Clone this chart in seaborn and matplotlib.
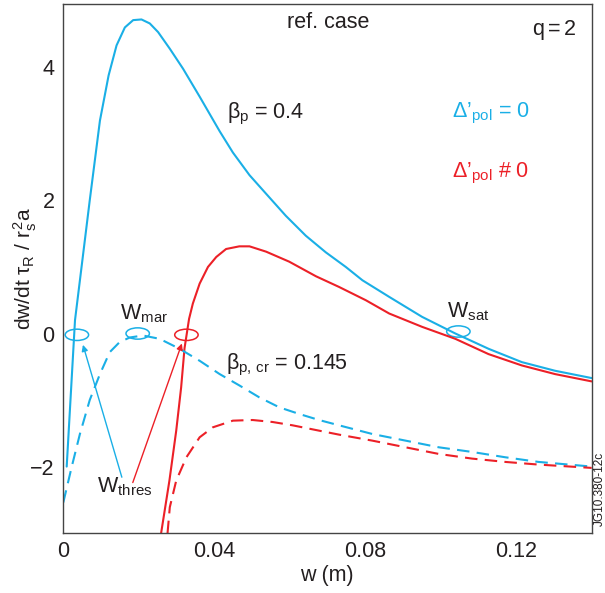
import numpy as np
import pandas as pd
import matplotlib
matplotlib.use("Agg")
import matplotlib.pyplot as plt
from matplotlib.patches import Ellipse
import seaborn as sns

# ---- data ----
blue_solid_w = [0.0010, 0.0032, 0.0071, 0.0098, 0.0121, 0.0142, 0.0164, 0.0186, 0.0208,
                0.0230, 0.0252, 0.0283, 0.0318, 0.0362, 0.0415, 0.0450, 0.0494, 0.0538,
                0.0590, 0.0643, 0.0696, 0.0749, 0.0793, 0.0864, 0.0951, 0.1039, 0.1127,
                0.1215, 0.1303, 0.1400]
blue_solid_v = [-2.00, 0.20, 2.00, 3.20, 3.88, 4.33, 4.60, 4.71, 4.72,
                4.66, 4.53, 4.28, 3.98, 3.56, 3.04, 2.72, 2.38, 2.10,
                1.77, 1.47, 1.22, 1.00, 0.80, 0.55, 0.25, 0.00, -0.23,
                -0.43, -0.56, -0.67]

red_solid_w = [0.0260, 0.0282, 0.0300, 0.0313, 0.0322, 0.0334, 0.0344, 0.0362, 0.0384,
               0.0406, 0.0432, 0.0467, 0.0494, 0.0538, 0.0599, 0.0670, 0.0731, 0.0802,
               0.0864, 0.0951, 0.1039, 0.1127, 0.1215, 0.1303, 0.1400]
red_solid_v = [-3.00, -2.21, -1.46, -0.81, -0.22, 0.22, 0.45, 0.75, 1.00,
               1.15, 1.27, 1.31, 1.31, 1.23, 1.08, 0.86, 0.70, 0.50,
               0.30, 0.10, -0.08, -0.31, -0.48, -0.61, -0.72]

blue_dash_w = [0.0001, 0.0023, 0.0045, 0.0071, 0.0098, 0.0124, 0.0150, 0.0177, 0.0212,
               0.0256, 0.0309, 0.0362, 0.0415, 0.0467, 0.0520, 0.0573, 0.0626, 0.0678,
               0.0731, 0.0819, 0.0907, 0.0995, 0.1083, 0.1171, 0.1259, 0.1400]
blue_dash_v = [-2.54, -2.01, -1.51, -1.00, -0.61, -0.28, -0.13, -0.06, -0.03,
               -0.08, -0.23, -0.41, -0.61, -0.78, -0.96, -1.11, -1.21, -1.30,
               -1.38, -1.51, -1.61, -1.71, -1.78, -1.86, -1.93, -2.00]

red_dash_w = [0.0277, 0.0283, 0.0300, 0.0327, 0.0362, 0.0397, 0.0450, 0.0502, 0.0555,
              0.0608, 0.0678, 0.0731, 0.0819, 0.0907, 0.0995, 0.1083, 0.1171, 0.1259,
              0.1400]
red_dash_v = [-3.00, -2.61, -2.21, -1.86, -1.56, -1.41, -1.31, -1.30, -1.33,
              -1.38, -1.46, -1.52, -1.61, -1.71, -1.81, -1.88, -1.93, -1.97,
              -2.02]

x_ticks = [0, 0.04, 0.08, 0.12]
x_tick_labels = ["0", "0.04", "0.08", "0.12"]
y_ticks = [-2, 0, 2, 4]
y_tick_labels = ["\u22122", "0", "2", "4"]

BLUE = "#1AAFE6"
RED = "#EC2027"
TXT = "#231F20"
FS = 15.5

sns.set_style("white")
plt.rcParams["font.family"] = ["Liberation Sans", "DejaVu Sans"]
plt.rcParams["mathtext.fontset"] = "custom"
plt.rcParams["mathtext.rm"] = "Liberation Sans"
plt.rcParams["mathtext.it"] = "Liberation Sans"
plt.rcParams["mathtext.bf"] = "Liberation Sans:bold"

fig = plt.figure(figsize=(6.05, 5.93), dpi=100)
ax = fig.add_axes([0.104, 0.101, 0.874, 0.892])

def frame(w, v):
    return pd.DataFrame({"w": w, "v": v})

sns.lineplot(data=frame(blue_solid_w, blue_solid_v), x="w", y="v", ax=ax,
             color=BLUE, lw=1.5, sort=False)
sns.lineplot(data=frame(red_solid_w, red_solid_v), x="w", y="v", ax=ax,
             color=RED, lw=1.5, sort=False)
sns.lineplot(data=frame(blue_dash_w, blue_dash_v), x="w", y="v", ax=ax,
             color=BLUE, lw=1.5, sort=False, linestyle=(0, (6, 3.5)))
sns.lineplot(data=frame(red_dash_w, red_dash_v), x="w", y="v", ax=ax,
             color=RED, lw=1.5, sort=False, linestyle=(0, (6, 3.5)))

ax.set_xlim(0, 0.14)
ax.set_ylim(-3, 4.95)
ax.set_xticks(x_ticks)
ax.set_xticklabels(x_tick_labels)
ax.set_yticks(y_ticks)
ax.set_yticklabels(y_tick_labels)
ax.tick_params(direction="in", length=7, width=1, colors="#555555",
               labelsize=FS, labelcolor=TXT, pad=6)
for s in ax.spines.values():
    s.set_color("#444444")
    s.set_linewidth(1.0)

ax.set_xlabel("w (m)", fontsize=FS, color=TXT, labelpad=2)
ax.set_ylabel(r"dw/dt $\tau_R$ / $r_s^2$a", fontsize=15, color=TXT)
ax.yaxis.set_label_coords(-0.045, 0.5)

# text annotations
ax.text(0.0702, 4.68, "ref. case", fontsize=FS, color=TXT, ha="center", va="center")
ax.text(0.1360, 4.56, r"q$=$2", fontsize=FS, color=TXT, ha="right", va="center")
ax.text(0.0435, 3.30, r"$\beta_p$ = 0.4", fontsize=FS, color=TXT, ha="left", va="center")
ax.text(0.1030, 3.30, "\u0394\u2019$_{pol}$ = 0", fontsize=FS, color=BLUE, ha="left", va="center")
ax.text(0.1030, 2.40, "\u0394\u2019$_{pol}$ # 0", fontsize=FS, color=RED, ha="left", va="center")
ax.text(0.0150, 0.30, "W$_{mar}$", fontsize=FS, color=TXT, ha="left", va="center")
ax.text(0.1016, 0.33, "W$_{sat}$", fontsize=FS, color=TXT, ha="left", va="center")
ax.text(0.0432, -0.48, r"$\beta_{p,\,cr}$ = 0.145", fontsize=FS, color=TXT, ha="left", va="center")
ax.text(0.0090, -2.30, "W$_{thres}$", fontsize=FS, color=TXT, ha="left", va="center")
fig.text(0.991, 0.175, "JG10.380-12c", fontsize=8.5, color=TXT, rotation=90,
         ha="center", va="center")

# ellipses
for (cx, cy, col) in [(0.0037, -0.02, BLUE), (0.0198, 0.0, BLUE),
                      (0.0327, -0.02, RED), (0.1047, 0.03, BLUE)]:
    ax.add_patch(Ellipse((cx, cy), 0.0062, 0.17, fill=False, edgecolor=col, lw=1.1))

# arrows
ax.annotate("", xy=(0.0053, -0.17), xytext=(0.0156, -2.16),
            arrowprops=dict(arrowstyle="-|>", color=BLUE, lw=1.0,
                            mutation_scale=9, shrinkA=0, shrinkB=0))
ax.annotate("", xy=(0.0315, -0.15), xytext=(0.0185, -2.24),
            arrowprops=dict(arrowstyle="-|>", color=RED, lw=1.0,
                            mutation_scale=9, shrinkA=0, shrinkB=0))

fig.savefig("out.png", dpi=100)
